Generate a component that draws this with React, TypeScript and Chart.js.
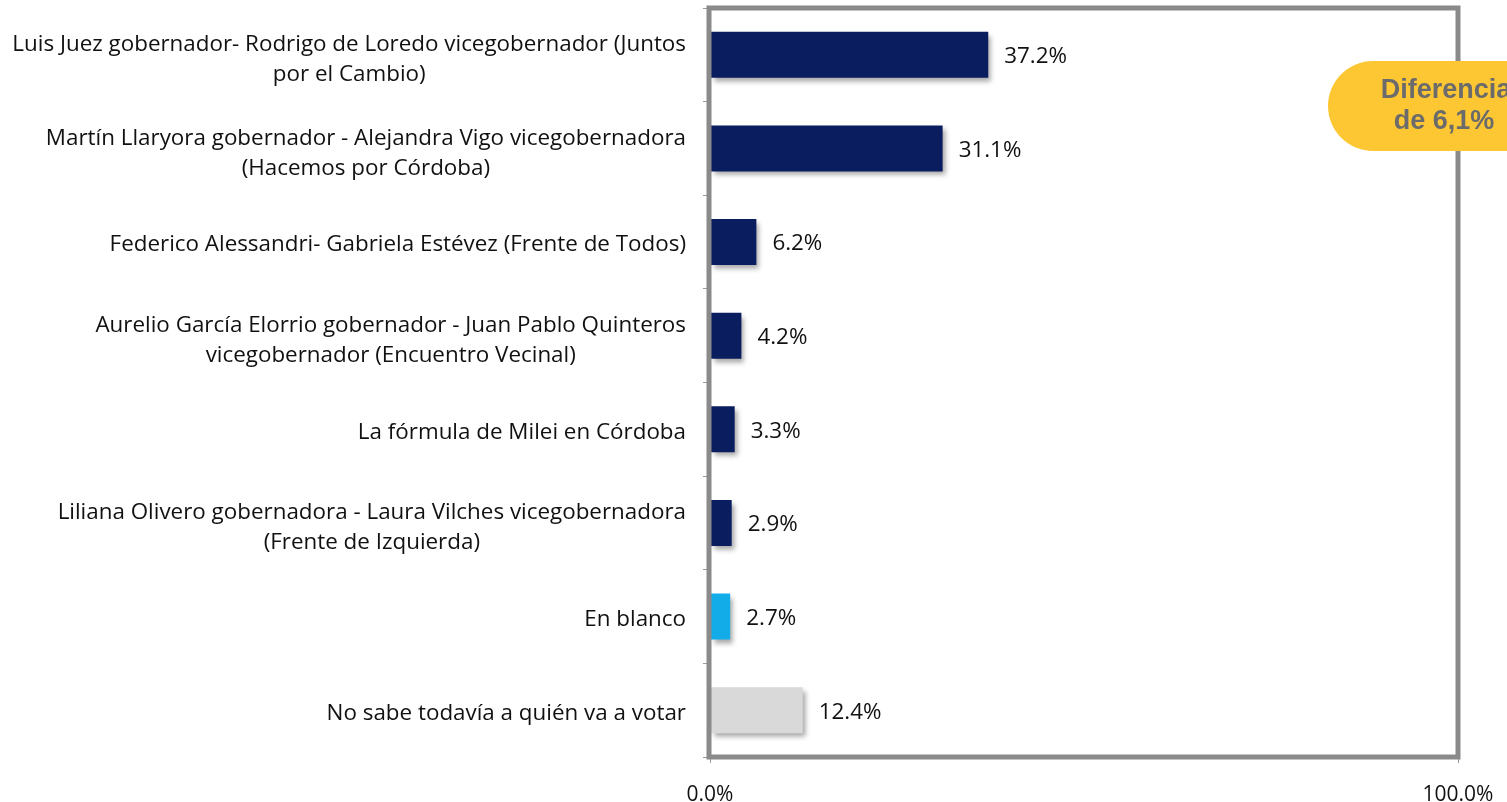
import React, { useEffect, useRef } from "react";
import { Chart, registerables } from "chart.js";

Chart.register(...registerables);

const categories: string[][] = [
  ["Luis Juez gobernador- Rodrigo de Loredo vicegobernador (Juntos", "por el Cambio)"],
  ["Martín Llaryora gobernador - Alejandra Vigo vicegobernadora", "(Hacemos por Córdoba)"],
  ["Federico Alessandri- Gabriela Estévez (Frente de Todos)"],
  ["Aurelio García Elorrio gobernador - Juan Pablo Quinteros", "vicegobernador (Encuentro Vecinal)"],
  ["La fórmula de Milei en Córdoba"],
  ["Liliana Olivero gobernadora - Laura Vilches vicegobernadora", "(Frente de Izquierda)"],
  ["En blanco"],
  ["No sabe todavía a quién va a votar"],
];
const values: number[] = [37.2, 31.1, 6.2, 4.2, 3.3, 2.9, 2.7, 12.4];
const barColors: string[] = ["#0a1d5e", "#0a1d5e", "#0a1d5e", "#0a1d5e", "#0a1d5e", "#0a1d5e", "#12ace8", "#d9d9d9"];
const xTicks: number[] = [0, 100];
const badgeLines: string[] = ["Diferencia", "de 6,1%"];

const LABEL_FONT = "22.4px 'Open Sans'";

const customPlugin = {
  id: "custom",
  beforeDatasetsDraw(chart: any) {
    const ctx = chart.ctx;
    ctx.save();
    ctx.shadowColor = "rgba(0,0,0,0.35)";
    ctx.shadowOffsetX = 3;
    ctx.shadowOffsetY = 4;
    ctx.shadowBlur = 5;
  },
  afterDatasetsDraw(chart: any) {
    const ctx = chart.ctx;
    ctx.restore();
    const { chartArea } = chart;
    const yScale = chart.scales.y;
    const meta = chart.getDatasetMeta(0);
    // border
    ctx.save();
    ctx.strokeStyle = "#8a8a8a";
    ctx.lineWidth = 5;
    ctx.strokeRect(chartArea.left - 1, chartArea.top, chartArea.right - chartArea.left + 1, chartArea.bottom - chartArea.top);
    ctx.restore();
    // category labels
    ctx.save();
    ctx.font = LABEL_FONT;
    ctx.fillStyle = "#111111";
    ctx.textBaseline = "middle";
    ctx.textAlign = "center";
    const lineH = 30;
    const rightEdge = chartArea.left - 24;
    categories.forEach((lines, i) => {
      const yc = yScale.getPixelForValue(i) + (lines.length > 1 ? 5 : 3);
      const w = Math.max(...lines.map((l) => ctx.measureText(l).width));
      const cx = rightEdge - w / 2;
      const y0 = yc - ((lines.length - 1) * lineH) / 2;
      lines.forEach((l, j) => ctx.fillText(l, cx, y0 + j * lineH));
    });
    // value labels
    ctx.textAlign = "left";
    meta.data.forEach((bar: any, i: number) => {
      ctx.fillText(values[i].toFixed(1) + "%", bar.x + 16, bar.y + 2);
    });
    ctx.restore();
    // badge
    ctx.save();
    const bx = 1328, by = 61, bw = 240, bh = 90, r = 45;
    ctx.fillStyle = "#fdc633";
    ctx.beginPath();
    ctx.moveTo(bx + r, by);
    ctx.lineTo(bx + bw - r, by);
    ctx.arc(bx + bw - r, by + r, r, -Math.PI / 2, Math.PI / 2);
    ctx.lineTo(bx + r, by + bh);
    ctx.arc(bx + r, by + r, r, Math.PI / 2, (3 * Math.PI) / 2);
    ctx.closePath();
    ctx.fill();
    ctx.fillStyle = "#6b6b6b";
    ctx.font = "bold 27px 'Liberation Sans'";
    ctx.textAlign = "center";
    ctx.textBaseline = "middle";
    ctx.fillText(badgeLines[0], 1446, 91);
    ctx.fillText(badgeLines[1], 1444, 122);
    ctx.restore();
  },
};

export default function App() {
  const ref = useRef<HTMLCanvasElement>(null);
  useEffect(() => {
    const chart = new Chart(ref.current!, {
      type: "bar",
      data: {
        labels: categories.map((c) => c.join(" ")),
        datasets: [
          {
            data: values,
            backgroundColor: barColors,
            barPercentage: 0.49,
            categoryPercentage: 1,
          },
        ],
      },
      options: {
        indexAxis: "y",
        animation: false,
        responsive: false,
        layout: { padding: { left: 0, top: 8, right: 49, bottom: 0 } },
        plugins: { legend: { display: false }, tooltip: { enabled: false } },
        scales: {
          x: {
            min: 0,
            max: 100,
            afterBuildTicks: (s: any) => {
              s.ticks = xTicks.map((v) => ({ value: v }));
            },
            afterFit: (s: any) => {
              s.height = 45;
              s.paddingLeft = 0;
              s.paddingRight = 0;
            },
            border: { display: false },
            grid: { drawOnChartArea: false, drawTicks: true, tickLength: 6, color: "#9a9a9a", lineWidth: 1 },
            ticks: {
              autoSkip: false,
              maxRotation: 0,
              padding: 19,
              color: "#111111",
              font: { family: "'Open Sans'", size: 21 },
              callback: (v: any) => Number(v).toFixed(1) + "%",
            },
          },
          y: {
            afterFit: (s: any) => {
              s.width = 710;
              s.paddingTop = 0;
              s.paddingBottom = 0;
            },
            border: { display: false },
            grid: { offset: true, drawOnChartArea: false, drawTicks: true, tickLength: 7, color: "#9a9a9a", lineWidth: 1 },
            ticks: { display: false },
          },
        },
      },
      plugins: [customPlugin],
    });
    return () => chart.destroy();
  }, []);
  return (
    <div style={{ position: "fixed", left: 0, top: 0, width: 1507, height: 802, background: "#fff" }}>
      <canvas ref={ref} width={1507} height={802} style={{ width: 1507, height: 802, display: "block" }} />
    </div>
  );
}
